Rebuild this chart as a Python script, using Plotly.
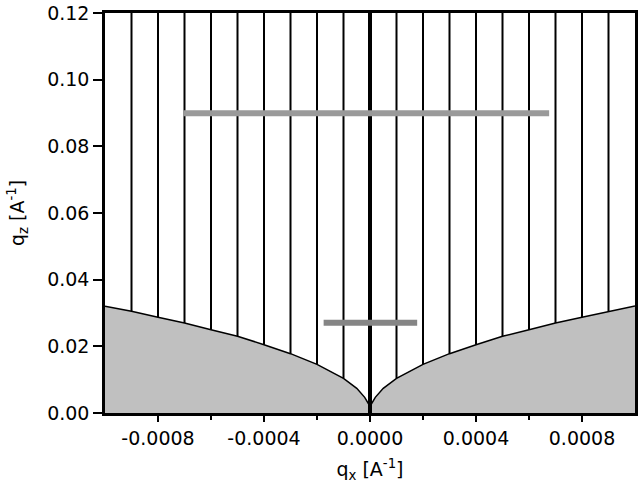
import numpy as np
import plotly.graph_objects as go

# boundary curve (horizon)
qx_curve = [-0.0010, -0.0009, -0.0008, -0.0007, -0.0006, -0.0005, -0.0004, -0.0003,
            -0.0002, -0.0001, -0.00005, -0.00002, -0.000005, 0.0,
            0.000005, 0.00002, 0.00005, 0.0001, 0.0002, 0.0003, 0.0004,
            0.0005, 0.0006, 0.0007, 0.0008, 0.0009, 0.0010]
qz_curve = [0.0320, 0.0305, 0.0287, 0.0270, 0.0250, 0.0230, 0.0205, 0.0178,
            0.0146, 0.0104, 0.0074, 0.0047, 0.0027, 0.0015,
            0.0027, 0.0047, 0.0074, 0.0104, 0.0146, 0.0178, 0.0205,
            0.0230, 0.0250, 0.0270, 0.0287, 0.0305, 0.0321]

# vertical scan lines
line_qx = [-0.0009, -0.0008, -0.0007, -0.0006, -0.0005, -0.0004, -0.0003, -0.0002, -0.0001,
           0.0001, 0.0002, 0.0003, 0.0004, 0.0005, 0.0006, 0.0007, 0.0008, 0.0009]
line_top = 0.12

# horizontal gray bars: [x_start, x_end, qz]
bar_upper = [-0.000705, 0.000676, 0.0899]
bar_lower = [-0.000175, 0.000178, 0.0271]

x_tickvals = [-0.0008, -0.0004, 0.0, 0.0004, 0.0008]
x_ticktext = ["-0.0008", "-0.0004", "0.0000", "0.0004", "0.0008"]
x_minor = [-0.0006, -0.0002, 0.0002, 0.0006]
y_tickvals = [0.0, 0.02, 0.04, 0.06, 0.08, 0.10, 0.12]
y_ticktext = ["0.00", "0.02", "0.04", "0.06", "0.08", "0.10", "0.12"]

FONT = "DejaVu Sans"

fig = go.Figure()

# shaded region under the curve
fig.add_trace(go.Scatter(x=qx_curve, y=qz_curve, mode="lines", fill="tozeroy",
                         fillcolor="#c0c0c0", line=dict(color="black", width=1.5),
                         hoverinfo="skip", showlegend=False))

# thin vertical lines from the curve up to the top
vx, vy = [], []
for q in line_qx:
    y0 = float(np.interp(q, qx_curve, qz_curve))
    vx += [q, q, None]
    vy += [y0, line_top, None]
fig.add_trace(go.Scatter(x=vx, y=vy, mode="lines", line=dict(color="black", width=2),
                         hoverinfo="skip", showlegend=False))

# thick zero line
fig.add_trace(go.Scatter(x=[0.0, 0.0], y=[0.0, line_top], mode="lines",
                         line=dict(color="black", width=4), hoverinfo="skip", showlegend=False))

# gray bars
fig.add_trace(go.Scatter(x=bar_upper[:2], y=[bar_upper[2]] * 2, mode="lines",
                         line=dict(color="#9a9a9a", width=6), hoverinfo="skip", showlegend=False))
fig.add_trace(go.Scatter(x=bar_lower[:2], y=[bar_lower[2]] * 2, mode="lines",
                         line=dict(color="#858585", width=6), hoverinfo="skip", showlegend=False))

fig.update_layout(
    width=640, height=489,
    margin=dict(l=105, r=2, t=11, b=76),
    paper_bgcolor="white", plot_bgcolor="white",
    font=dict(family=FONT, size=19, color="black"),
    showlegend=False,
)
fig.update_xaxes(
    range=[-0.001, 0.001], tickmode="array", tickvals=x_tickvals, ticktext=x_ticktext,
    ticks="outside", ticklen=6, tickwidth=2, tickcolor="black",
    minor=dict(tickmode="array", tickvals=x_minor, ticks="outside", ticklen=4,
               tickwidth=2, tickcolor="black", showgrid=False),
    showline=True, linecolor="black", linewidth=2.5, mirror=True,
    showgrid=False, zeroline=False, ticklabeloverflow="allow",
    tickfont=dict(family=FONT, size=19),
    title=dict(text="q<sub>x</sub> [A<sup>-1</sup>]", font=dict(family=FONT, size=19), standoff=16),
)
fig.update_yaxes(
    range=[0, 0.12], tickmode="array", tickvals=y_tickvals, ticktext=y_ticktext,
    ticks="outside", ticklen=9, tickwidth=2, tickcolor="black",
    showline=True, linecolor="black", linewidth=2.5, mirror=True,
    showgrid=False, zeroline=False, ticklabeloverflow="allow",
    tickfont=dict(family=FONT, size=19),
    title=dict(text="q<sub>z</sub> [A<sup>-1</sup>]", font=dict(family=FONT, size=19), standoff=18),
)

fig.write_html("out.html")
